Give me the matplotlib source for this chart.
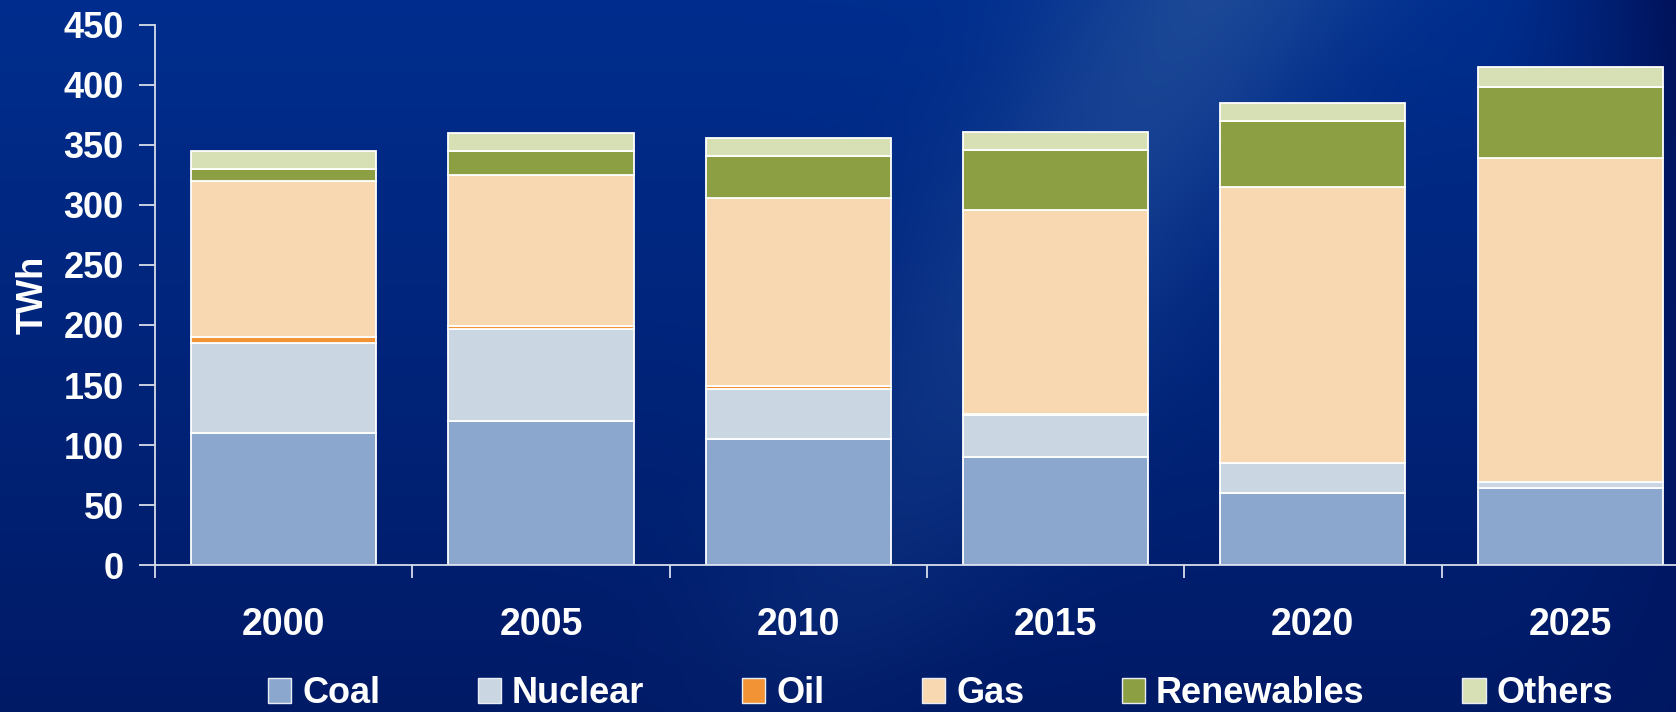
import numpy as np
import matplotlib
matplotlib.use("Agg")
import matplotlib.pyplot as plt
from matplotlib.patches import Patch

# ---- data ----
years = ["2000", "2005", "2010", "2015", "2020", "2025"]
coal = [110, 120, 105, 90, 60, 64]
nuclear = [75, 77, 42, 35, 25, 5]
oil = [5, 2, 2.5, 1.3, 0, 0]
gas = [130, 126, 156, 169, 230, 270]
renewables = [10, 20, 35, 50, 55, 59]
others = [15, 15, 15, 15, 15, 17]

series_names = ["Coal", "Nuclear", "Oil", "Gas", "Renewables", "Others"]
series_vals = [coal, nuclear, oil, gas, renewables, others]
colors = ["#8BA7CD", "#CBD6E3", "#F29335", "#F8D8B0", "#8C9F42", "#D7E0B5"]

W, H = 1676, 712
fig = plt.figure(figsize=(W / 100, H / 100), dpi=100)

# ---- background gradient ----
ny, nx = 200, 400
yy, xx = np.mgrid[0:1:ny * 1j, 0:1:nx * 1j]
top = np.array([0x00, 0x2E, 0x8E]) / 255
bot = np.array([0x00, 0x1A, 0x66]) / 255
img = top[None, None, :] * (1 - yy[..., None]) + bot[None, None, :] * yy[..., None]
# lighter diagonal streak
d = (xx - 0.72) + 0.25 * (yy - 0.0)
streak = np.exp(-(d / 0.09) ** 2) * np.clip(1 - yy * 0.9, 0, 1)
light = np.array([0x25, 0x50, 0x9A]) / 255
img = img * (1 - 0.75 * streak[..., None]) + light[None, None, :] * 0.75 * streak[..., None]
# darker right edge
edge = np.clip((xx - 0.88) / 0.12, 0, 1) ** 1.5 * np.clip(1 - yy * 0.6, 0, 1)
dark = np.array([0x00, 0x12, 0x5A]) / 255
img = img * (1 - edge[..., None]) + dark[None, None, :] * edge[..., None]
bg = fig.add_axes([0, 0, 1, 1], zorder=-10)
bg.imshow(img, aspect="auto", extent=[0, 1, 0, 1], origin="upper", interpolation="bilinear")
bg.axis("off")

# ---- main axes ----
x0, y0 = 155, 565.3
cat_w = 257.3
ytop = 24.5
ax = fig.add_axes([x0 / W, (H - y0) / H, cat_w * 6 / W, (y0 - ytop) / H])
ax.patch.set_alpha(0)

font = dict(family="Liberation Sans", weight="bold", size=26)
xfont = dict(family="Liberation Sans", weight="bold", size=27)

x = np.arange(len(years))
bottom = np.zeros(len(years))
for name, vals, c in zip(series_names, series_vals, colors):
    vals = np.array(vals, dtype=float)
    ax.bar(x, vals, 0.72, bottom=bottom, color=c, edgecolor="white", linewidth=1.3, label=name)
    bottom += vals

ax.set_xlim(-0.5, 5.5)
ax.set_ylim(0, 450)
ax.set_yticks(np.arange(0, 451, 50))
ax.set_yticklabels([str(v) for v in range(0, 451, 50)], **font, color="white")
ax.set_xticks(np.arange(-0.5, 6, 1))
ax.set_xticklabels([])
ax.set_xticks(x, minor=True)
ax.set_xticklabels(years, minor=True, **xfont, color="white")
ax.tick_params(axis="x", which="minor", length=0, pad=30)
ax.tick_params(axis="x", which="major", length=9, width=1.3, color="#D8DEEA", direction="out")
ax.tick_params(axis="y", length=11.5, width=1.3, color="#D8DEEA", pad=11)

for s in ["top", "right"]:
    ax.spines[s].set_visible(False)
for s in ["left", "bottom"]:
    ax.spines[s].set_color("#D8DEEA")
    ax.spines[s].set_linewidth(1.3)

ax.set_ylabel("TWh", **font, color="white", labelpad=9)

handles = [Patch(facecolor=c, edgecolor="#E8ECF4", linewidth=1.0) for c in colors]
leg = fig.legend(handles, series_names, ncol=6, loc="center left",
                 bbox_to_anchor=(267.8 / W, 1 - 693.5 / H), frameon=False,
                 borderpad=0, borderaxespad=0, handlelength=0.65, handleheight=0.67,
                 handletextpad=0.3, columnspacing=2.7,
                 prop=dict(family="Liberation Sans", weight="bold", size=26))
for t in leg.get_texts():
    t.set_color("white")

fig.savefig("out.png", dpi=100)
